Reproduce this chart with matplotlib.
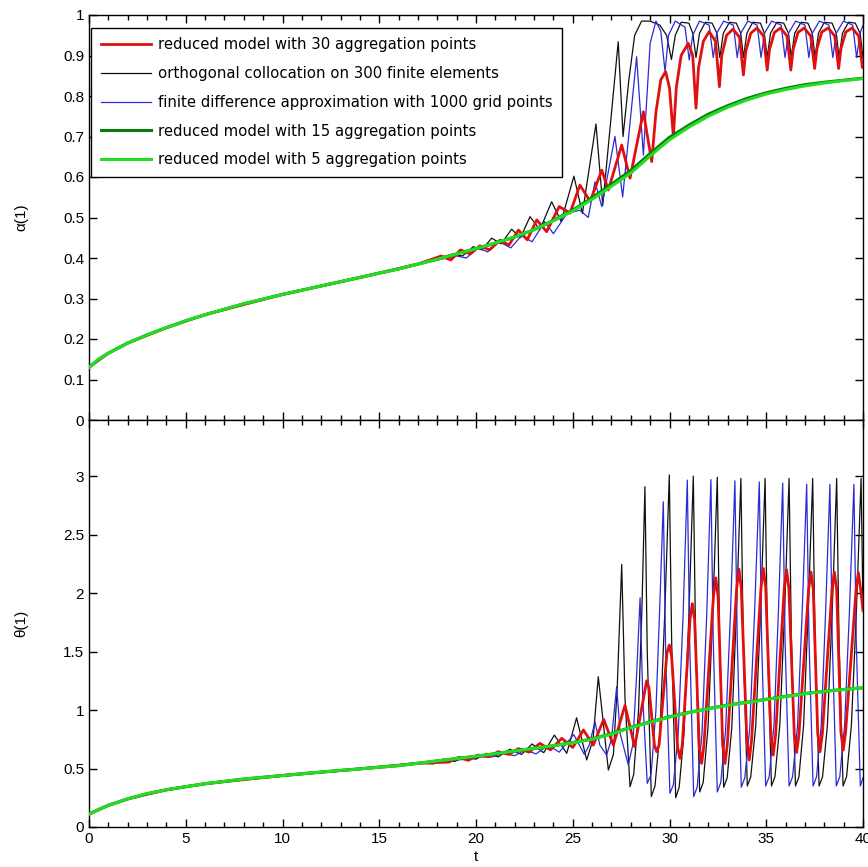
import numpy as np
import matplotlib.pyplot as plt
from matplotlib.ticker import MultipleLocator, FixedLocator, FormatStrFormatter

# smooth reduced models (5 and 15 aggregation points)
t_smooth = [0, 0.5, 1, 2, 3, 4, 5, 6, 8, 10, 12, 14, 16, 18, 20, 21, 22, 23, 24, 25,
            26, 27, 28, 29, 30, 31, 32, 33, 34, 35, 36, 37, 38, 39, 40]
alpha_5 = [0.13, 0.15, 0.165, 0.19, 0.21, 0.228, 0.245, 0.26, 0.287, 0.31, 0.331, 0.352,
           0.373, 0.397, 0.423, 0.437, 0.452, 0.47, 0.492, 0.516, 0.545, 0.577, 0.61,
           0.652, 0.692, 0.723, 0.75, 0.772, 0.79, 0.805, 0.816, 0.825, 0.832, 0.838, 0.843]
alpha_15 = [0.13, 0.15, 0.165, 0.19, 0.21, 0.228, 0.245, 0.26, 0.287, 0.31, 0.331, 0.352,
            0.373, 0.397, 0.423, 0.437, 0.452, 0.47, 0.493, 0.518, 0.549, 0.582, 0.616,
            0.658, 0.698, 0.728, 0.755, 0.776, 0.794, 0.808, 0.819, 0.828, 0.834, 0.839, 0.844]
theta_5 = [0.11, 0.15, 0.185, 0.24, 0.285, 0.318, 0.345, 0.37, 0.41, 0.44, 0.47, 0.497,
           0.525, 0.565, 0.605, 0.627, 0.65, 0.672, 0.695, 0.72, 0.75, 0.795, 0.85, 0.895,
           0.94, 0.978, 1.01, 1.04, 1.065, 1.09, 1.115, 1.14, 1.16, 1.175, 1.19]
theta_15 = [0.11, 0.15, 0.185, 0.24, 0.285, 0.318, 0.345, 0.37, 0.41, 0.44, 0.47, 0.497,
            0.525, 0.565, 0.605, 0.627, 0.65, 0.672, 0.695, 0.722, 0.753, 0.798, 0.853,
            0.898, 0.943, 0.98, 1.012, 1.042, 1.067, 1.092, 1.117, 1.141, 1.161, 1.176, 1.19]

# reduced model, 30 aggregation points
t_red_a = [0, 1, 2, 4, 6, 10, 14, 17, 18.2, 18.7, 19.2, 19.7, 20.2, 20.7, 21.24, 21.7,
           22.19, 22.65, 23.14, 23.65, 24.3, 24.86, 25.37, 25.9, 26.5, 26.84, 27.53,
           27.96, 28.65, 29.08, 29.3, 29.55, 29.8, 30.0, 30.2, 30.35, 30.6, 30.97, 31.2,
           31.37, 31.5, 31.75, 32.05, 32.38, 32.58, 32.7, 32.95, 33.28, 33.62, 33.82,
           33.94, 34.2, 34.52, 34.86, 35.05, 35.17, 35.42, 35.74, 36.07, 36.27, 36.39,
           36.64, 36.96, 37.3, 37.5, 37.62, 37.87, 38.2, 38.54, 38.74, 38.86, 39.11,
           39.44, 39.78, 39.97, 40]
alpha_red = [0.13, 0.165, 0.19, 0.228, 0.26, 0.31, 0.352, 0.385, 0.405, 0.395, 0.42,
             0.41, 0.43, 0.42, 0.444, 0.432, 0.469, 0.445, 0.494, 0.465, 0.527, 0.511,
             0.58, 0.54, 0.617, 0.568, 0.679, 0.597, 0.761, 0.638, 0.76, 0.84, 0.86,
             0.82, 0.70, 0.82, 0.9, 0.93, 0.9, 0.77, 0.87, 0.935, 0.959, 0.935, 0.823,
             0.9, 0.95, 0.965, 0.945, 0.852, 0.91, 0.955, 0.968, 0.948, 0.864, 0.915,
             0.957, 0.968, 0.948, 0.864, 0.915, 0.957, 0.968, 0.948, 0.868, 0.917,
             0.958, 0.968, 0.948, 0.868, 0.917, 0.958, 0.968, 0.948, 0.87, 0.885]
t_red_th = [0, 1, 2, 4, 6, 10, 14, 17, 18.6, 19.1, 19.6, 20.1, 20.65, 21.15, 21.7, 22.19,
            22.75, 23.3, 23.85, 24.43, 25.0, 25.55, 26.06, 26.6, 27.1, 27.7, 28.2,
            28.82, 28.94, 29.22, 29.34, 29.46, 29.87, 29.99, 30.11, 30.42, 30.54, 30.66,
            31.06, 31.18, 31.3, 31.54, 31.66, 31.78, 32.27, 32.39, 32.51, 32.75, 32.87,
            32.99, 33.47, 33.59, 33.71, 34.0, 34.12, 34.24, 34.73, 34.85, 34.97, 35.24,
            35.36, 35.48, 35.93, 36.05, 36.17, 36.45, 36.57, 36.69, 37.19, 37.31, 37.43,
            37.66, 37.78, 37.9, 38.4, 38.52, 38.64, 38.86, 38.98, 39.1, 39.64, 39.76,
            39.88, 40]
theta_red = [0.11, 0.185, 0.24, 0.318, 0.37, 0.44, 0.497, 0.545, 0.555, 0.596, 0.57,
             0.615, 0.6, 0.644, 0.62, 0.67, 0.64, 0.715, 0.66, 0.758, 0.68, 0.83, 0.70,
             0.92, 0.70, 1.04, 0.686, 1.25, 1.19, 0.70, 0.644, 0.70, 1.49, 1.556, 1.46,
             0.68, 0.587, 0.70, 1.78, 1.91, 1.77, 0.68, 0.544, 0.70, 1.97, 2.13, 1.97,
             0.70, 0.544, 0.71, 2.04, 2.205, 2.04, 0.74, 0.573, 0.74, 2.05, 2.21, 2.05,
             0.78, 0.615, 0.78, 2.04, 2.2, 2.04, 0.79, 0.638, 0.79, 2.03, 2.18, 2.03,
             0.80, 0.644, 0.80, 2.03, 2.18, 2.03, 0.81, 0.658, 0.81, 2.02, 2.175, 2.03,
             1.85]

# orthogonal collocation, 300 finite elements
t_oc_a = [0, 1, 2, 4, 6, 10, 14, 17, 18.8, 19.3, 19.86, 20.3, 20.81, 21.3, 21.84, 22.3,
          22.79, 23.3, 23.91, 24.4, 25.06, 25.5, 26.2, 26.55, 27.35, 27.6, 27.9, 28.2,
          28.56, 29.0, 29.5, 29.85, 30.1, 30.3, 30.6, 31.0, 31.2, 31.37, 31.55, 31.85,
          32.2, 32.45, 32.6, 32.78, 33.1, 33.45, 33.68, 33.82, 34.0, 34.3, 34.7, 34.9,
          35.05, 35.22, 35.55, 35.9, 36.15, 36.29, 36.47, 36.8, 37.15, 37.38, 37.52,
          37.7, 38.0, 38.4, 38.62, 38.76, 38.94, 39.25, 39.6, 39.85, 40.0]
alpha_oc = [0.13, 0.165, 0.19, 0.228, 0.26, 0.31, 0.352, 0.385, 0.41, 0.405, 0.428,
            0.42, 0.449, 0.435, 0.471, 0.45, 0.502, 0.47, 0.539, 0.49, 0.602, 0.51,
            0.731, 0.53, 0.934, 0.70, 0.84, 0.95, 0.985, 0.985, 0.975, 0.95, 0.89,
            0.95, 0.982, 0.98, 0.955, 0.895, 0.955, 0.982, 0.98, 0.955, 0.895, 0.955,
            0.982, 0.98, 0.955, 0.895, 0.955, 0.982, 0.98, 0.955, 0.895, 0.955, 0.982,
            0.98, 0.955, 0.895, 0.955, 0.982, 0.98, 0.955, 0.895, 0.955, 0.982, 0.98,
            0.955, 0.895, 0.955, 0.982, 0.98, 0.955, 0.895]
t_oc_th = [0, 1, 2, 4, 6, 10, 14, 17, 17.8, 18.3, 18.9, 19.4, 20.0, 20.55, 21.15, 21.75,
           22.35, 22.9, 23.5, 24.05, 24.69, 25.2, 25.72, 26.05, 26.32, 26.84, 27.1, 27.3,
           27.53, 27.7, 27.96, 28.15, 28.4, 28.58, 28.73, 28.85, 29.06, 29.25, 29.5,
           29.75, 29.99, 30.11, 30.32, 30.5, 30.75, 31.0, 31.23, 31.35, 31.56, 31.74,
           31.99, 32.24, 32.47, 32.59, 32.8, 32.98, 33.22, 33.46, 33.69, 33.81, 34.02,
           34.2, 34.46, 34.71, 34.94, 35.06, 35.27, 35.45, 35.7, 35.95, 36.18, 36.3,
           36.51, 36.69, 36.93, 37.17, 37.4, 37.52, 37.73, 37.91, 38.16, 38.41, 38.64,
           38.76, 38.97, 39.15, 39.4, 39.66, 39.9, 40.0]
theta_oc = [0.11, 0.185, 0.24, 0.318, 0.37, 0.44, 0.497, 0.545, 0.54, 0.58, 0.56,
            0.6, 0.58, 0.63, 0.6, 0.665, 0.62, 0.71, 0.635, 0.786, 0.63, 0.934, 0.573,
            0.75, 1.285, 0.487, 0.62, 1.2, 2.245, 1.1, 0.344, 0.45, 1.0, 1.9, 2.91,
            1.5, 0.26, 0.35, 0.8, 1.8, 3.01, 1.6, 0.25, 0.34, 0.8, 1.8, 3.0, 1.6, 0.3,
            0.38, 0.85, 1.85, 2.99, 1.6, 0.34, 0.42, 0.85, 1.85, 2.98, 1.6, 0.35, 0.43,
            0.87, 1.85, 2.98, 1.6, 0.35, 0.43, 0.87, 1.85, 2.98, 1.6, 0.35, 0.43, 0.87,
            1.85, 2.98, 1.6, 0.35, 0.43, 0.87, 1.85, 2.98, 1.6, 0.35, 0.43, 0.87, 1.85,
            2.98, 1.85]

# finite differences, 1000 grid points
t_fd_a = [0, 1, 2, 4, 6, 10, 14, 17, 19.0, 19.5, 20.1, 20.6, 21.2, 21.8, 22.35, 22.9,
          23.55, 24.0, 24.7, 25.37, 25.8, 26.15, 26.5, 27.18, 27.58, 28.3, 28.65, 29.0,
          29.3, 29.55, 29.77, 29.95, 30.3, 30.8, 31.02, 31.2, 31.55, 32.05, 32.26, 32.44,
          32.8, 33.3, 33.5, 33.68, 34.05, 34.53, 34.73, 34.91, 35.28, 35.77, 35.97, 36.15,
          36.52, 37.0, 37.2, 37.38, 37.75, 38.24, 38.44, 38.62, 38.99, 39.47, 39.67,
          39.85, 40]
alpha_fd = [0.13, 0.165, 0.19, 0.228, 0.26, 0.31, 0.352, 0.385, 0.405, 0.4, 0.425,
            0.415, 0.44, 0.425, 0.455, 0.44, 0.49, 0.46, 0.51, 0.518, 0.5, 0.588,
            0.527, 0.70, 0.551, 0.897, 0.654, 0.93, 0.985, 0.96, 0.86, 0.95, 0.985,
            0.97, 0.889, 0.95, 0.985, 0.975, 0.895, 0.955, 0.985, 0.975, 0.895, 0.955,
            0.985, 0.975, 0.895, 0.955, 0.985, 0.975, 0.895, 0.955, 0.985, 0.975, 0.895,
            0.955, 0.985, 0.975, 0.895, 0.955, 0.985, 0.975, 0.895, 0.955, 0.975]
t_fd_th = [0, 1, 2, 4, 6, 10, 14, 17, 18.5, 19.1, 19.7, 20.3, 20.85, 21.4, 22.0, 22.55,
           23.1, 23.74, 24.3, 25.05, 25.6, 25.85, 26.15, 26.4, 26.75, 27.0, 27.27, 27.45,
           27.87, 28.1, 28.3, 28.48, 28.62, 28.85, 29.05, 29.3, 29.5, 29.68, 29.8, 30.02,
           30.2, 30.45, 30.7, 30.92, 31.04, 31.25, 31.43, 31.68, 31.92, 32.14, 32.26,
           32.47, 32.65, 32.9, 33.15, 33.38, 33.5, 33.71, 33.89, 34.15, 34.4, 34.64,
           34.76, 34.97, 35.15, 35.4, 35.63, 35.85, 35.97, 36.18, 36.36, 36.62, 36.86,
           37.09, 37.21, 37.42, 37.6, 37.84, 38.07, 38.29, 38.41, 38.62, 38.8, 39.05,
           39.3, 39.53, 39.65, 39.86, 40]
theta_fd = [0.11, 0.185, 0.24, 0.318, 0.37, 0.44, 0.497, 0.545, 0.555, 0.575, 0.58,
            0.6, 0.6, 0.63, 0.61, 0.66, 0.625, 0.70, 0.64, 0.79, 0.62, 0.7, 0.9, 0.7,
            0.615, 0.75, 1.2, 0.8, 0.53, 0.7, 1.3, 1.96, 1.1, 0.373, 0.45, 1.0, 1.9,
            2.78, 1.5, 0.288, 0.36, 0.8, 1.8, 2.966, 1.6, 0.26, 0.34, 0.8, 1.8, 2.97,
            1.6, 0.30, 0.38, 0.83, 1.82, 2.96, 1.6, 0.34, 0.42, 0.85, 1.85, 2.95, 1.6,
            0.35, 0.43, 0.87, 1.85, 2.94, 1.6, 0.35, 0.43, 0.87, 1.85, 2.93, 1.6, 0.35,
            0.43, 0.87, 1.85, 2.93, 1.6, 0.35, 0.43, 0.87, 1.85, 2.93, 1.6, 0.35, 0.42]

labels = ['reduced model with 30 aggregation points',
          'orthogonal collocation on 300 finite elements',
          'finite difference approximation with 1000 grid points',
          'reduced model with 15 aggregation points',
          'reduced model with 5 aggregation points']

plt.rcParams['font.family'] = ['Liberation Sans', 'DejaVu Sans']
plt.rcParams['font.size'] = 11

fig = plt.figure(figsize=(8.68, 8.67), dpi=100)
W, H = 868.0, 867.0
ax1 = fig.add_axes([89 / W, 1 - 420 / H, 774 / W, 405 / H])
ax2 = fig.add_axes([89 / W, 1 - 827 / H, 774 / W, 407 / H])

c_red, c_blk, c_blu, c_dg, c_lg = '#e01010', '#101010', '#2a2ad8', '#0a7a0a', '#22dd22'

ax1.plot(t_red_a, alpha_red, color=c_red, lw=2.0, label=labels[0], zorder=3)
ax1.plot(t_oc_a, alpha_oc, color=c_blk, lw=0.9, label=labels[1], zorder=2)
ax1.plot(t_fd_a, alpha_fd, color=c_blu, lw=0.9, label=labels[2], zorder=2)
ax1.plot(t_smooth, alpha_15, color=c_dg, lw=2.2, label=labels[3], zorder=4)
ax1.plot(t_smooth, alpha_5, color=c_lg, lw=2.2, label=labels[4], zorder=5)

ax2.plot(t_red_th, theta_red, color=c_red, lw=2.0, zorder=3)
ax2.plot(t_oc_th, theta_oc, color=c_blk, lw=0.9, zorder=2)
ax2.plot(t_fd_th, theta_fd, color=c_blu, lw=0.9, zorder=2)
ax2.plot(t_smooth, theta_15, color=c_dg, lw=2.2, zorder=4)
ax2.plot(t_smooth, theta_5, color=c_lg, lw=2.2, zorder=5)

for ax in (ax1, ax2):
    ax.set_xlim(0, 40)
    ax.xaxis.set_major_locator(MultipleLocator(5))
    ax.xaxis.set_minor_locator(MultipleLocator(1))
    ax.tick_params(which='both', direction='in', top=True, right=True, width=1)
    ax.tick_params(which='major', length=6)
    ax.tick_params(which='minor', length=3.5)
    for s in ax.spines.values():
        s.set_linewidth(1.0)

ax1.set_ylim(0, 1)
ax1.yaxis.set_major_locator(FixedLocator(np.arange(0, 1.01, 0.1)))
ax1.yaxis.set_major_formatter(FormatStrFormatter('%g'))
ax1.tick_params(labelbottom=False)
ax1.set_ylabel('α(1)')
ax1.yaxis.set_label_coords(-0.078, 0.5)

ax2.set_ylim(0, 3.48)
ax2.yaxis.set_major_locator(FixedLocator([0, 0.5, 1, 1.5, 2, 2.5, 3]))
ax2.yaxis.set_major_formatter(FormatStrFormatter('%g'))
ax2.set_ylabel('θ(1)')
ax2.yaxis.set_label_coords(-0.078, 0.5)
ax2.set_xlabel('t', labelpad=3)

leg = ax1.legend(loc='upper left', bbox_to_anchor=(0.003, 0.968), borderaxespad=0,
                 fancybox=False, framealpha=1, edgecolor='black',
                 prop={'family': 'DejaVu Sans', 'size': 10.7},
                 handlelength=3.4, handletextpad=0.45, labelspacing=0.93,
                 borderpad=0.62)
leg.get_frame().set_linewidth(1.0)

fig.savefig('out.png', dpi=100)
